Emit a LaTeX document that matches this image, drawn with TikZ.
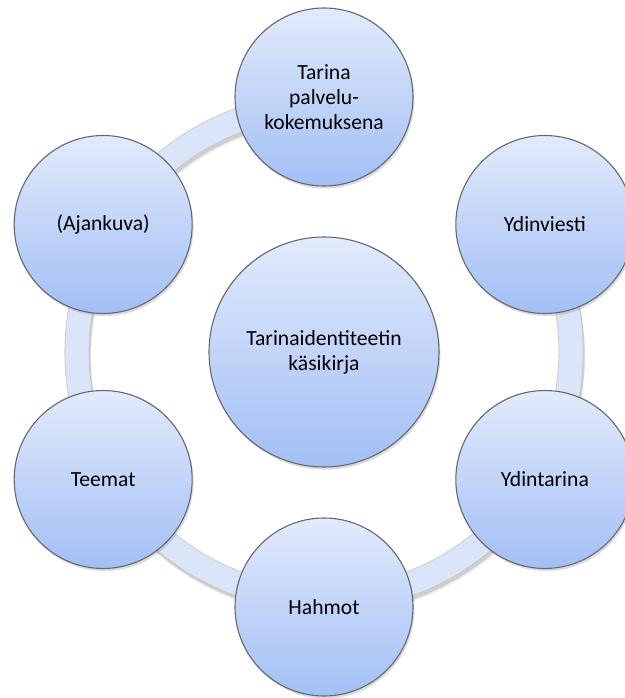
\documentclass[tikz,border=0pt]{standalone}
\usepackage{fontspec}
\setmainfont{Carlito}
\usetikzlibrary{shadows}
\definecolor{ctop}{RGB}{226,234,252}
\definecolor{cbot}{RGB}{162,191,245}
\definecolor{cedge}{RGB}{100,104,112}
\definecolor{ringc}{RGB}{219,229,249}
\begin{document}
\begin{tikzpicture}[x=0.5pt,y=0.5pt,
  bubble/.style={circle, draw=cedge, line width=0.55pt, top color=ctop, bottom color=cbot,
    inner sep=0pt, align=center, font=\fontsize{10.8}{12.4}\selectfont, text=black,
    drop shadow={shadow xshift=0.7pt, shadow yshift=-1.3pt, opacity=0.28}},
  outerbub/.style={bubble, minimum size=89pt},
  innerbub/.style={bubble, minimum size=115pt},
  ringshadow/.style={line width=12pt, black, opacity=0.12},
  ringedge/.style={line width=12.5pt, black!22},
  ringfill/.style={line width=11.7pt, ringc}]
\useasboundingbox (0,0) rectangle (625,698);
\coordinate (C) at (324,346);
% ring (open between top and upper-right bubble)
\draw[ringshadow] ([shift={(0.8pt,-1.8pt)}]C) ++(30:123.5pt) arc[start angle=30, end angle=-270, radius=123.5pt];
\draw[ringshadow, opacity=0.08] ([shift={(1pt,-2.6pt)}]C) ++(30:123.5pt) arc[start angle=30, end angle=-270, radius=123.5pt];
\draw[ringedge] (C) ++(30:123.5pt) arc[start angle=30, end angle=-270, radius=123.5pt];
\draw[ringfill] (C) ++(30:123.5pt) arc[start angle=30, end angle=-270, radius=123.5pt];
% bubbles
\node[innerbub] (c) at (C) {Tarinaidentiteetin\\käsikirja};
\node[outerbub] (n1) at ([shift={(90:127.5pt)}]C) {Tarina\\palvelu-\\kokemuksena};
\node[outerbub] (n2) at ([shift={(30:127.5pt)}]C) {Ydinviesti};
\node[outerbub] (n3) at ([shift={(-30:127.5pt)}]C) {Ydintarina};
\node[outerbub] (n4) at ([shift={(-90:127.5pt)}]C) {Hahmot};
\node[outerbub] (n5) at ([shift={(-150:127.5pt)}]C) {Teemat};
\node[outerbub] (n6) at ([shift={(150:127.5pt)}]C) {(Ajankuva)};
\end{tikzpicture}
\end{document}
